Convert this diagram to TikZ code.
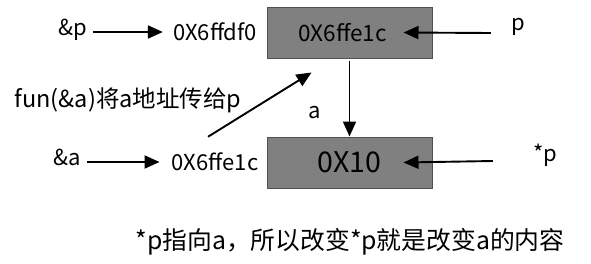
\documentclass[tikz,border=0pt]{standalone}
\usepackage{fontspec}
\setmainfont{Noto Sans CJK SC}
\usetikzlibrary{arrows.meta,calc}
\definecolor{boxfill}{HTML}{808080}
\definecolor{boxline}{HTML}{505050}
\tikzset{
  lbl/.style={inner sep=0pt, font=\fontsize{22}{24}\selectfont},
  membox/.style={draw=boxline, line width=1pt, fill=boxfill, minimum width=165pt, minimum height=51pt, inner sep=0pt, font=\fontsize{22.5}{24}\selectfont},
  arr/.style={line width=1.9pt, -{Triangle[length=15pt,width=13pt]}}
}
\begin{document}
\begin{tikzpicture}[x=1pt,y=-1pt]
\useasboundingbox (0,0) rectangle (591,263);
\node[membox] (box1) at (349.5,32.5) {0X6ffe1c\hspace*{14pt}};
\node[membox, font=\fontsize{28.5}{30}\selectfont] (box2) at (349.5,162.5) {0X10};
\node[lbl] (ap) at (73,30) {\&p};
\node[lbl] (v1) at (215,32) {0X6ffdf0};
\node[lbl] (p) at (518,27) {p};
\node[lbl] (a) at (315,113) {a};
\node[lbl, font=\fontsize{23.5}{25}\selectfont] (fun) at (128,100) {fun(\&a)将a地址传给p};
\node[lbl] (aa) at (67,157) {\&a};
\node[lbl] (v2) at (215,162) {0X6ffe1c};
\node[lbl] (sp) at (545,155) {*p};
\node[lbl, font=\fontsize{24.8}{26}\selectfont] (note) at (350,242) {*p指向a，所以改变*p就是改变a的内容};
\draw[arr] ($(ap.east |- v1)+(5,0)$) -- ($(v1.west)+(-10,0)$);
\draw[arr] ($(p.west)+(-20,6)$) -- ($(box1.east)+(-29,0)$);
\draw[arr] ($(box1.south)+(0,2)$) -- (box2.north);
\draw[arr] ($(v2.north)+(-7,-16)$) -- ($(box1.south west)+(45,14)$);
\draw[arr] ($(aa.east |- v2)+(6,0)$) -- ($(v2.west)+(-12,0)$);
\draw[arr] ($(sp.west)+(-40,6)$) -- ($(box2.east)+(-29,0)$);
\end{tikzpicture}
\end{document}
